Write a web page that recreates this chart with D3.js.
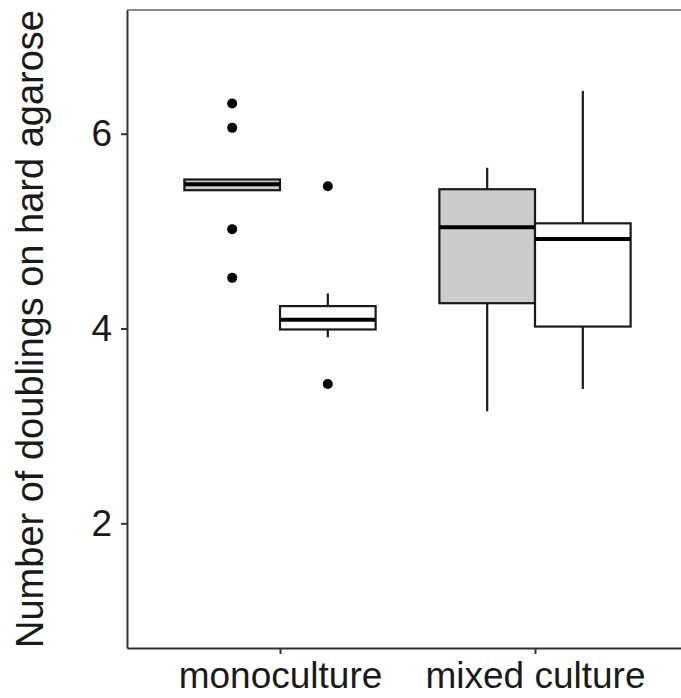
<!DOCTYPE html>
<html>
<head>
<meta charset="utf-8">
<script src="https://cdn.jsdelivr.net/npm/d3@7"></script>
<style>
  body { margin: 0; background: #fff; }
  text { font-family: "Liberation Sans", Arial, sans-serif; fill: #1a1a1a; }
</style>
</head>
<body>
<svg class="chart"></svg>
<script>
// groups on the x axis, two dodged boxes in each
var groups = ["monoculture", "mixed culture"];
var series = ["a", "b"];
var fills = ["#cccccc", "#ffffff"];

// box stats, order: mono-a, mono-b, mixed-a, mixed-b
var boxGroup  = ["monoculture", "monoculture", "mixed culture", "mixed culture"];
var boxSeries = ["a", "b", "a", "b"];
var lower  = [5.42, 3.91, 3.15, 3.38];
var q1     = [5.42, 3.99, 4.26, 4.02];
var median = [5.48, 4.09, 5.04, 4.92];
var q3     = [5.53, 4.23, 5.43, 5.08];
var upper  = [5.53, 4.36, 5.65, 6.44];
var outliers = [[6.31, 6.06, 5.02, 4.52], [5.46, 3.43], [], []];

var yTicks = [2, 4, 6];

var width = 681;
var height = 698;
var svg = d3.select(".chart").attr("width", width).attr("height", height);

var panelLeft = 127, panelTop = 10, panelBottom = 648;

// ggplot style discrete axis: positions 1..n, expand 0.6
var x_scale = d3.scaleLinear()
    .domain([0.4, 2.6])
    .range([panelLeft, panelLeft + 255 * 2.2]);

var y_scale = d3.scaleLinear()
    .domain([0.72, 7.27])
    .range([panelBottom, panelTop]);

var boxW = 0.75 / series.length;
function boxLeft(i) {
  var g = groups.indexOf(boxGroup[i]) + 1;
  var s = series.indexOf(boxSeries[i]);
  return g - 0.375 + s * boxW;
}

// top border of the panel
svg.append("line")
    .attr("x1", panelLeft).attr("x2", width)
    .attr("y1", panelTop).attr("y2", panelTop)
    .attr("stroke", "#8a8a8a").attr("stroke-width", 2);

var i = 0;
while (i < q1.length) {
  var x0 = x_scale(boxLeft(i));
  var x1 = x_scale(boxLeft(i) + boxW);
  var xm = (x0 + x1) / 2;

  svg.append("line")
      .attr("x1", xm).attr("x2", xm)
      .attr("y1", y_scale(upper[i])).attr("y2", y_scale(q3[i]))
      .attr("stroke", "#1a1a1a").attr("stroke-width", 2.2);
  svg.append("line")
      .attr("x1", xm).attr("x2", xm)
      .attr("y1", y_scale(q1[i])).attr("y2", y_scale(lower[i]))
      .attr("stroke", "#1a1a1a").attr("stroke-width", 2.2);

  svg.append("rect")
      .attr("x", x0)
      .attr("y", y_scale(q3[i]))
      .attr("width", x1 - x0)
      .attr("height", y_scale(q1[i]) - y_scale(q3[i]))
      .attr("fill", fills[series.indexOf(boxSeries[i])])
      .attr("stroke", "#1a1a1a").attr("stroke-width", 2.2);

  svg.append("line")
      .attr("x1", x0).attr("x2", x1)
      .attr("y1", y_scale(median[i])).attr("y2", y_scale(median[i]))
      .attr("stroke", "#000").attr("stroke-width", 4);

  outliers[i].forEach(function(v) {
    svg.append("circle")
        .attr("cx", xm)
        .attr("cy", y_scale(v))
        .attr("r", 5)
        .attr("fill", "#000");
  });
  i += 1;
}

var x_axis = d3.axisBottom(x_scale)
    .tickValues([1, 2])
    .tickFormat(function(d) { return groups[d - 1]; })
    .tickSizeInner(6).tickSizeOuter(0).tickPadding(8);

var y_axis = d3.axisLeft(y_scale)
    .tickValues(yTicks)
    .tickFormat(d3.format("d"))
    .tickSizeInner(6).tickSizeOuter(0).tickPadding(9);

var gx = svg.append("g")
    .attr("transform", "translate(0," + panelBottom + ")")
    .call(x_axis);
gx.select(".domain").attr("stroke", "#333").attr("stroke-width", 2);
gx.selectAll(".tick line").attr("stroke", "#333").attr("stroke-width", 2);
gx.selectAll("text")
    .attr("font-size", 37)
    .attr("fill", "#1a1a1a")
    .attr("font-family", "Liberation Sans, Arial, sans-serif")
    .attr("dy", "0.71em");

var gy = svg.append("g")
    .attr("transform", "translate(" + panelLeft + ",0)")
    .call(y_axis);
gy.select(".domain").attr("stroke", "#333").attr("stroke-width", 2);
gy.selectAll(".tick line").attr("stroke", "#333").attr("stroke-width", 2);
gy.selectAll("text")
    .attr("font-size", 37)
    .attr("fill", "#1a1a1a")
    .attr("font-family", "Liberation Sans, Arial, sans-serif");

svg.append("text")
    .attr("transform", "translate(43," + (panelTop + panelBottom) / 2 + ") rotate(-90)")
    .attr("text-anchor", "middle")
    .attr("font-size", 38)
    .text("Number of doublings on hard agarose");
</script>
</body>
</html>
